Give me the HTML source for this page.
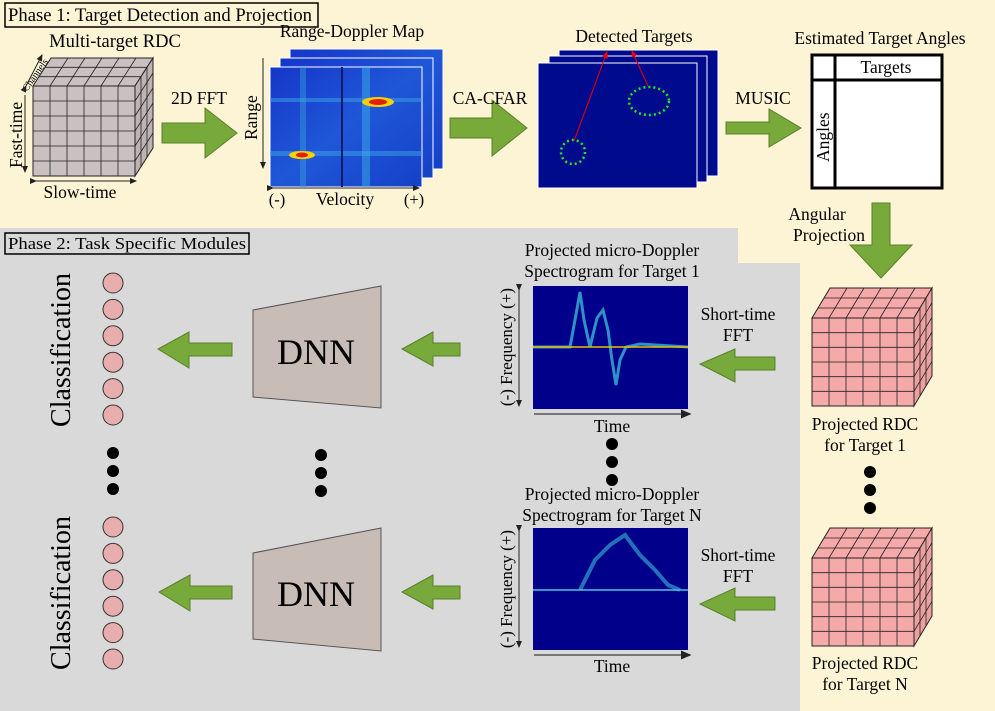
<!DOCTYPE html>
<html><head><meta charset="utf-8"><style>
html,body{margin:0;padding:0;background:#fdf4d5;}
svg{display:block;font-family:"Liberation Serif",serif;}
</style></head><body>
<svg id="s" width="995" height="711" viewBox="0 0 995 711" xmlns="http://www.w3.org/2000/svg">
<defs>
<marker id="ah" markerWidth="8" markerHeight="8" refX="6" refY="4" orient="auto"><path d="M0,1 L7,4 L0,7z" fill="#222"/></marker>
<marker id="ar" markerWidth="8" markerHeight="8" refX="6" refY="4" orient="auto"><path d="M0,1 L7,4 L0,7z" fill="#e00"/></marker>
<linearGradient id="rdg" x1="0" y1="0" x2="1" y2="1"><stop offset="0" stop-color="#1536c8"/><stop offset="0.5" stop-color="#1f57d8"/><stop offset="1" stop-color="#1540c8"/></linearGradient>
</defs>
<rect x="0" y="0" width="995" height="711" fill="#fdf4d5"/>
<path d="M0,228 H738 V263 H800 V711 H0 Z" fill="#d9d9d9"/>

<g>
<rect x="5" y="3" width="313" height="24" fill="#fdf4d5" stroke="#000" stroke-width="1.5"/>
<text x="8" y="21" font-size="18.5" textLength="304" lengthAdjust="spacingAndGlyphs">Phase 1: Target Detection and Projection</text>
</g>
<g>
<rect x="5" y="233" width="244" height="21" fill="#d9d9d9" stroke="#000" stroke-width="1.5"/>
<text x="8" y="249" font-size="17" textLength="238" lengthAdjust="spacingAndGlyphs">Phase 2: Task Specific Modules</text>
</g>

<g id="cube1"></g>
<text x="115" y="47" font-size="18.5" text-anchor="middle">Multi-target RDC</text>
<text transform="translate(27,92) rotate(-55)" font-size="10">Channels</text>
<line x1="26" y1="86" x2="42" y2="55" stroke="#222" marker-end="url(#ah)" marker-start="url(#ah)"/>
<line x1="25" y1="95" x2="25" y2="172" stroke="#222" marker-end="url(#ah)"/>
<text transform="translate(22,168) rotate(-90)" font-size="17.5">Fast-time</text>
<line x1="36" y1="181" x2="136" y2="181" stroke="#222" marker-end="url(#ah)" marker-start="url(#ah)"/>
<text x="80" y="198" font-size="17.5" text-anchor="middle">Slow-time</text>

<path d="M162,123 H205 V108 L237,133 L205,158 V143 H162Z" fill="#78a93b" stroke="#5a7f2a"/>
<text x="199" y="104" font-size="17.5" text-anchor="middle">2D FFT</text>

<g>
<rect x="290" y="49" width="153" height="120" fill="url(#rdg)" stroke="#fff"/>
<rect x="280" y="58" width="153" height="120" fill="url(#rdg)" stroke="#fff"/>
<rect x="270" y="67" width="152" height="120" fill="url(#rdg)" stroke="#fff"/>
<rect x="300" y="67" width="6" height="120" fill="#3aa0e0" opacity="0.45"/>
<rect x="362" y="67" width="8" height="120" fill="#40b8e8" opacity="0.45"/>
<rect x="270" y="98" width="152" height="4" fill="#40b0e8" opacity="0.45"/>
<rect x="270" y="151" width="152" height="5" fill="#40b0e8" opacity="0.45"/>
<rect x="341" y="67" width="2" height="120" fill="#0a1a6a"/>
<ellipse cx="378" cy="102" rx="16" ry="5" fill="#ffd000"/>
<ellipse cx="378" cy="102" rx="9" ry="3" fill="#e02000"/>
<ellipse cx="302" cy="155" rx="13" ry="4" fill="#ffd000"/>
<ellipse cx="302" cy="155" rx="6" ry="2.5" fill="#e02000"/>
</g>
<text x="352" y="37" font-size="17.5" text-anchor="middle">Range-Doppler Map</text>
<line x1="263" y1="58" x2="263" y2="168" stroke="#222" marker-end="url(#ah)"/>
<text transform="translate(257,140) rotate(-90)" font-size="17.5">Range</text>
<line x1="273" y1="188" x2="419" y2="188" stroke="#222" marker-end="url(#ah)" marker-start="url(#ah)"/>
<text x="277" y="205" font-size="16.5" text-anchor="middle">(-)</text>
<text x="345" y="205" font-size="17.5" text-anchor="middle">Velocity</text>
<text x="414" y="205" font-size="16.5" text-anchor="middle">(+)</text>

<path d="M450,118 H492 V100 L527,128 L492,156 V138 H450Z" fill="#78a93b" stroke="#5a7f2a"/>
<text x="490" y="104" font-size="17.5" text-anchor="middle">CA-CFAR</text>

<g>
<rect x="559" y="50" width="159" height="126" fill="#000a8c" stroke="#fff"/>
<rect x="549" y="56" width="158" height="126" fill="#000a8c" stroke="#fff"/>
<rect x="538" y="63" width="159" height="125" fill="#000a8c" stroke="#fff"/>
<ellipse cx="649" cy="101" rx="20" ry="14" fill="none" stroke="#22e822" stroke-width="2.5" stroke-dasharray="2,3"/>
<circle cx="573" cy="152" r="12" fill="none" stroke="#22e822" stroke-width="2.5" stroke-dasharray="2,3"/>
<line x1="574" y1="141" x2="607" y2="52" stroke="#e00" marker-end="url(#ar)"/>
<line x1="648" y1="86" x2="632" y2="51" stroke="#e00" marker-end="url(#ar)"/>
</g>
<text x="634" y="42" font-size="17.5" text-anchor="middle">Detected Targets</text>

<path d="M726,122 H769 V109 L801,128 L769,147 V134 H726Z" fill="#78a93b" stroke="#5a7f2a"/>
<text x="763" y="104" font-size="17.5" text-anchor="middle">MUSIC</text>

<g>
<rect x="812" y="55" width="130" height="133" fill="#fff" stroke="#000" stroke-width="3"/>
<line x1="835" y1="55" x2="835" y2="188" stroke="#000" stroke-width="3"/>
<line x1="812" y1="80" x2="942" y2="80" stroke="#000" stroke-width="3"/>
<text x="886" y="73" font-size="17.5" text-anchor="middle">Targets</text>
<text transform="translate(829,162) rotate(-90)" font-size="17.5">Angles</text>
</g>
<text x="880" y="44" font-size="17.5" text-anchor="middle">Estimated Target Angles</text>

<path d="M872,203 H890 V245 H912 L881,278 L850,245 H872Z" fill="#78a93b" stroke="#5a7f2a"/>
<text x="817" y="220" font-size="17.5" text-anchor="middle">Angular</text>
<text x="829" y="241" font-size="17.5" text-anchor="middle">Projection</text>

<g id="cube2"></g>
<g id="cube3"></g>
<text x="865" y="430" font-size="17.5" text-anchor="middle">Projected RDC</text>
<text x="865" y="451" font-size="17.5" text-anchor="middle">for Target 1</text>
<text x="865" y="669" font-size="17.5" text-anchor="middle">Projected RDC</text>
<text x="865" y="690" font-size="17.5" text-anchor="middle">for Target N</text>
<g fill="#000">
<circle cx="870" cy="472" r="6"/><circle cx="870" cy="490" r="6"/><circle cx="870" cy="508" r="6"/>
<circle cx="612" cy="444" r="6"/><circle cx="612" cy="462" r="6"/><circle cx="612" cy="480" r="6"/>
<circle cx="321" cy="455" r="6"/><circle cx="321" cy="473" r="6"/><circle cx="321" cy="491" r="6"/>
<circle cx="113" cy="453" r="6"/><circle cx="113" cy="471" r="6"/><circle cx="113" cy="489" r="6"/>
</g>

<path d="M775,357 H735 V349 L700,364 L735,382 V370 H775Z" fill="#78a93b" stroke="#5a7f2a"/>
<text x="738" y="320" font-size="17.5" text-anchor="middle">Short-time</text>
<text x="738" y="341" font-size="17.5" text-anchor="middle">FFT</text>
<path d="M775,597 H735 V588 L700,604 L735,621 V610 H775Z" fill="#78a93b" stroke="#5a7f2a"/>
<text x="738" y="561" font-size="17.5" text-anchor="middle">Short-time</text>
<text x="738" y="582" font-size="17.5" text-anchor="middle">FFT</text>

<g>
<rect x="533" y="286" width="155" height="123" fill="#00008b"/>
<path d="M533,347 H570 L575,320 L580,292 L584,320 L590,347 L597,318 L603,310 L608,330 L612,360 L616,385 L620,360 L626,347 L640,344 L688,347" fill="none" stroke="#40d0e0" stroke-width="3" opacity="0.7"/>
<line x1="533" y1="347" x2="688" y2="347" stroke="#e8c000" stroke-width="1.5"/>
</g>
<text x="612" y="256" font-size="17.5" text-anchor="middle">Projected micro-Doppler</text>
<text x="612" y="277" font-size="17.5" text-anchor="middle">Spectrogram for Target 1</text>
<line x1="519" y1="290" x2="519" y2="406" stroke="#222" marker-end="url(#ah)" marker-start="url(#ah)"/>
<text transform="translate(512,347) rotate(-90)" font-size="17" text-anchor="middle">(-) Frequency (+)</text>
<line x1="534" y1="414" x2="690" y2="414" stroke="#555" stroke-width="1.5" marker-end="url(#ah)"/>
<text x="612" y="432" font-size="17.5" text-anchor="middle">Time</text>

<g>
<rect x="533" y="528" width="155" height="122" fill="#00008b"/>
<path d="M580,590 L595,560 L610,545 L625,535 L640,555 L655,570 L668,585 L680,590" fill="none" stroke="#40d0e0" stroke-width="4" opacity="0.55"/>
<line x1="533" y1="590" x2="688" y2="590" stroke="#50c0e0" stroke-width="1.5"/>
</g>
<text x="612" y="500" font-size="17.5" text-anchor="middle">Projected micro-Doppler</text>
<text x="612" y="521" font-size="17.5" text-anchor="middle">Spectrogram for Target N</text>
<line x1="519" y1="531" x2="519" y2="647" stroke="#222" marker-end="url(#ah)" marker-start="url(#ah)"/>
<text transform="translate(512,589) rotate(-90)" font-size="17" text-anchor="middle">(-) Frequency (+)</text>
<line x1="534" y1="655" x2="690" y2="655" stroke="#555" stroke-width="1.5" marker-end="url(#ah)"/>
<text x="612" y="672" font-size="17.5" text-anchor="middle">Time</text>

<path d="M460,343 H433 V332 L402,349 L433,366 V356 H460Z" fill="#78a93b" stroke="#5a7f2a"/>
<path d="M460,586 H433 V575 L402,592 L433,609 V599 H460Z" fill="#78a93b" stroke="#5a7f2a"/>
<g>
<path d="M253,310 L381,286 V408 L253,397Z" fill="#c8bcb6" stroke="#555"/>
<text x="316" y="364" font-size="36" text-anchor="middle">DNN</text>
</g>
<g>
<path d="M253,553 L381,528 V651 L253,639Z" fill="#c8bcb6" stroke="#555"/>
<text x="316" y="606" font-size="36" text-anchor="middle">DNN</text>
</g>
<path d="M232,343 H189 V332 L158,349 L189,368 V356 H232Z" fill="#78a93b" stroke="#5a7f2a"/>
<path d="M232,586 H190 V575 L159,592 L190,611 V599 H232Z" fill="#78a93b" stroke="#5a7f2a"/>
<g id="outs"></g>
<text transform="translate(70,350) rotate(-90)" font-size="28" text-anchor="middle">Classification</text>
<text transform="translate(70,593) rotate(-90)" font-size="28" text-anchor="middle">Classification</text>
</svg>
<script>
const NS='http://www.w3.org/2000/svg';
function mk(g,tag,a){const e=document.createElementNS(NS,tag);for(const k in a)e.setAttribute(k,a[k]);g.appendChild(e);return e;}
function cube(id,x,y,w,h,dx,dy,fill,fillSide){
  const g=document.getElementById(id);
  mk(g,'path',{d:`M${x},${y} L${x+dx},${y-dy} L${x+w+dx},${y-dy} L${x+w},${y}Z`,fill:fill,stroke:'#222'});
  mk(g,'path',{d:`M${x+w},${y} L${x+w+dx},${y-dy} L${x+w+dx},${y+h-dy} L${x+w},${y+h}Z`,fill:fillSide,stroke:'#222'});
  mk(g,'rect',{x:x,y:y,width:w,height:h,fill:fill,stroke:'#222'});
  for(let i=1;i<6;i++){
    const cx=x+w*i/6, ry=y+h*i/6;
    mk(g,'line',{x1:cx,y1:y,x2:cx,y2:y+h,stroke:'#222','stroke-width':0.8});
    mk(g,'line',{x1:x,y1:ry,x2:x+w,y2:ry,stroke:'#222','stroke-width':0.8});
    mk(g,'line',{x1:cx,y1:y,x2:cx+dx,y2:y-dy,stroke:'#222','stroke-width':0.8});
    mk(g,'line',{x1:x+w,y1:ry,x2:x+w+dx,y2:ry-dy,stroke:'#222','stroke-width':0.8});
    if(i<3){const ox=dx*i/3, oy=dy*i/3;
      mk(g,'line',{x1:x+ox,y1:y-oy,x2:x+w+ox,y2:y-oy,stroke:'#222','stroke-width':0.8});
      mk(g,'line',{x1:x+w+ox,y1:y-oy,x2:x+w+ox,y2:y+h-oy,stroke:'#222','stroke-width':0.8});}
  }
}
cube('cube1',33,86,102,90,18,28,'#c9c1c1','#bdb3b3');
cube('cube2',812,318,102,88,18,30,'#f6a9a9','#eea0a0');
cube('cube3',812,558,102,88,18,30,'#f6a9a9','#eea0a0');
const outs=document.getElementById('outs');
[283,527].forEach(function(y0){
  for(let i=0;i<6;i++){
    const c=mk(outs,'circle',{cx:113,cy:y0+i*26.4,r:10,fill:'#e8adad',stroke:'#333'});
    
    
  }
});
</script>
</body></html>
